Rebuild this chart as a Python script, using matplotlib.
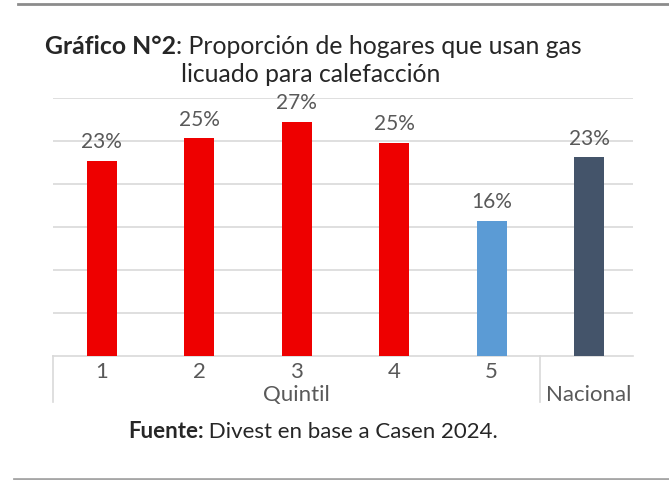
import matplotlib
matplotlib.use('Agg')
import matplotlib.pyplot as plt

# data
categorias = ['1', '2', '3', '4', '5', 'Nacional']
valores = [22.7, 25.3, 27.2, 24.8, 15.7, 23.1]
etiquetas = ['23%', '25%', '27%', '25%', '16%', '23%']
colores = ['#EE0000', '#EE0000', '#EE0000', '#EE0000', '#5B9BD5', '#44546A']

plt.rcParams['font.family'] = ['Lato', 'DejaVu Sans']
gris = '#595959'
linea = '#D9D9D9'

W, H = 669, 480
fig = plt.figure(figsize=(W / 100, H / 100), dpi=100)
ax = fig.add_axes([53 / W, (H - 356) / H, (633 - 53) / W, (356 - 98) / H])

x = list(range(len(categorias)))
ax.bar(x, valores, width=0.31, color=colores, zorder=3)
for xi, v, e in zip(x, valores, etiquetas):
    ax.text(xi, v + 1.0, e, ha='center', va='bottom', fontsize=15, color=gris)

ax.set_xlim(-0.5, 5.45)
ax.set_ylim(0, 30)
ax.set_yticks(range(5, 31, 5))
ax.yaxis.grid(True, color=linea, linewidth=1.2, zorder=0)
ax.tick_params(left=False, bottom=False, labelleft=False, labelbottom=False)
for s in ['top', 'right', 'left']:
    ax.spines[s].set_visible(False)
ax.spines['bottom'].set_color(linea)
ax.spines['bottom'].set_linewidth(1.2)

# category axis below
tr = ax.get_xaxis_transform()
for xl in [-0.5, 4.5]:
    ax.plot([xl, xl], [0, -46 / 258], transform=tr, color=linea, lw=1.2, clip_on=False)
for xi, c in zip(x[:5], categorias[:5]):
    ax.text(xi, -16 / 258, c, transform=tr, ha='center', va='center', fontsize=16, color=gris)
ax.text(2, -39 / 258, 'Quintil', transform=tr, ha='center', va='center', fontsize=16, color=gris)
ax.text(5, -39 / 258, 'Nacional', transform=tr, ha='center', va='center', fontsize=16, color=gris)

# title with bold part
fig.canvas.draw()
r = fig.canvas.get_renderer()
t1 = fig.text(0, 1 - 47 / H, 'Gráfico N°2', fontsize=17.8, fontweight='bold', color='#262626', va='center')
t2 = fig.text(0, 1 - 47 / H, ': Proporción de hogares que usan gas', fontsize=17.8, color='#262626', va='center')
w1 = t1.get_window_extent(r).width
w2 = t2.get_window_extent(r).width
x0 = 313 - (w1 + w2) / 2
t1.set_x(x0 / W)
t2.set_x((x0 + w1) / W)
fig.text(311 / W, 1 - 75 / H, 'licuado para calefacción', fontsize=17.8, color='#262626', ha='center', va='center')

# source line
s1 = fig.text(0, 1 - 432 / H, 'Fuente:', fontsize=16, fontweight='bold', color='#262626', va='center')
s2 = fig.text(0, 1 - 432 / H, ' Divest en base a Casen 2024.', fontsize=16, color='#262626', va='center')
a1 = s1.get_window_extent(r).width
a2 = s2.get_window_extent(r).width
x0 = 313 - (a1 + a2) / 2
s1.set_x(x0 / W)
s2.set_x((x0 + a1) / W)

# frame lines top and bottom
fig.add_artist(plt.Line2D([18 / W, 1], [1 - 4 / H] * 2, color='#8C8C8C', lw=2))
fig.add_artist(plt.Line2D([14 / W, 1], [1 - 479 / H] * 2, color='#A6A6A6', lw=2))

fig.savefig('out.png', dpi=100)
